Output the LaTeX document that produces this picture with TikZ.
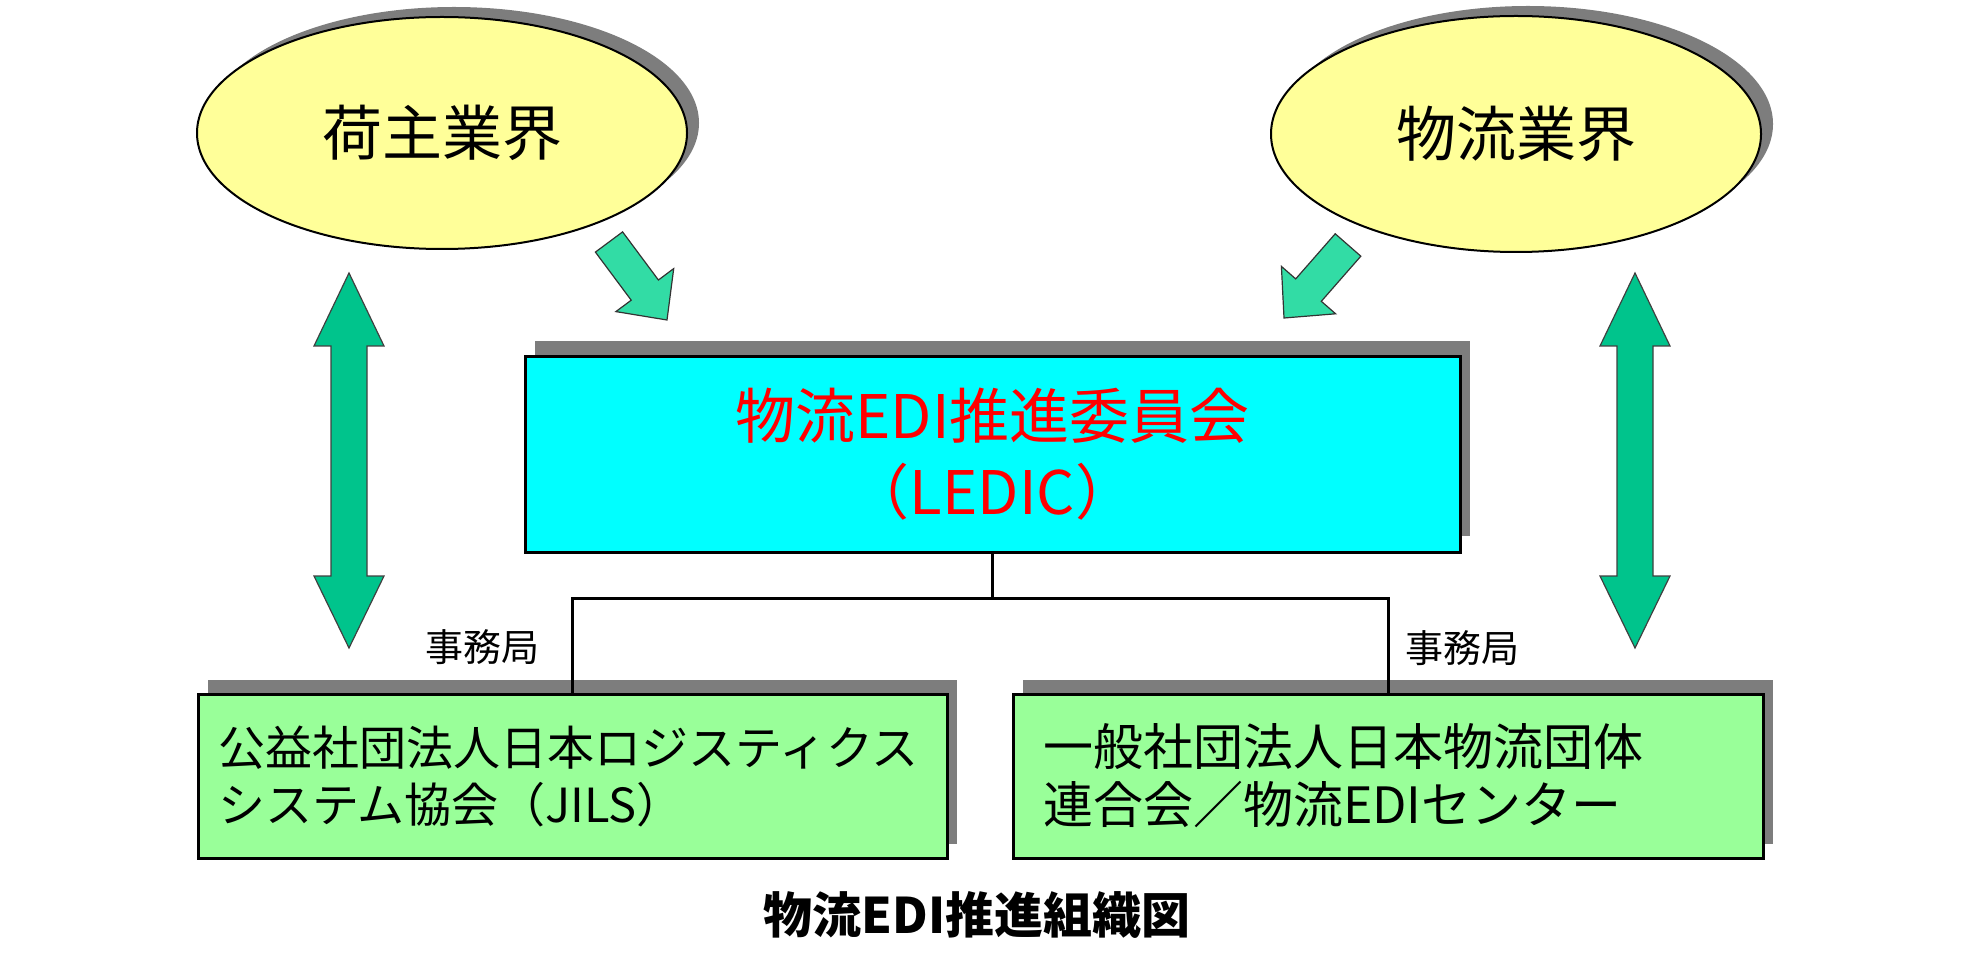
\documentclass[tikz,border=0pt]{standalone}
\usepackage{fontspec}
\setmainfont{Noto Sans CJK JP}
\usetikzlibrary{shapes.geometric,shadows}
\definecolor{ellyellow}{HTML}{FFFF99}
\definecolor{boxcyan}{HTML}{00FFFF}
\definecolor{boxgreen}{HTML}{99FF99}
\definecolor{arrgreen}{RGB}{0,196,140}
\definecolor{arrlight}{RGB}{50,220,165}
\definecolor{shadowgray}{RGB}{125,125,125}
\definecolor{ledicred}{HTML}{FF0000}
\begin{document}
\begin{tikzpicture}[x=0.5pt,y=-0.5pt,
  ell/.style={ellipse, draw=black, line width=1pt, fill=ellyellow,
    minimum width=245pt, minimum height=116pt, inner sep=0pt,
    drop shadow={shadow xshift=6pt,shadow yshift=5pt,fill=shadowgray,opacity=1},
    font=\fontsize{30}{36}\selectfont},
  mainbox/.style={draw=black, line width=1.5pt, fill=boxcyan,
    minimum width=467.5pt, minimum height=97.5pt, inner sep=0pt, align=center,
    text=ledicred, font=\fontsize{30}{38}\selectfont,
    drop shadow={shadow xshift=5pt,shadow yshift=8pt,fill=shadowgray,opacity=1}},
  orgbox/.style={draw=black, line width=1.5pt, fill=boxgreen,
    minimum height=82pt, inner ysep=0pt, align=left,
    drop shadow={shadow xshift=5pt,shadow yshift=7pt,fill=shadowgray,opacity=1}},
  lbl/.style={inner sep=0pt, font=\fontsize{19}{22}\selectfont},
  conn/.style={draw=black, line width=1.5pt},
  dblarrow/.style={fill=arrgreen, draw=black!75, line width=0.6pt, line join=miter},
  smallarrow/.style={fill=arrlight, draw=black!80, line width=0.6pt, line join=miter},
  caption/.style={inner sep=0pt, font=\fontsize{24.5}{28}\selectfont\bfseries}
]
\useasboundingbox (0,0) rectangle (1969,962);

% ellipses
\node[ell] (shipper) at (442,133) {荷主業界};
\node[ell, minimum height=118pt] (logind) at (1516,134) {物流業界};

% central committee
\node[mainbox] (ledic) at (992.5,454.5) {物流EDI推進委員会\\（LEDIC）};

% lower boxes
\node[orgbox, minimum width=374.5pt, text width=354.5pt, inner xsep=10pt,
  font=\fontsize{23.5}{28.5}\selectfont] (jils) at (572.5,776)
  {公益社団法人日本ロジスティクス\\システム協会（JILS）};
\node[orgbox, minimum width=375pt, text width=345pt, inner xsep=15pt,
  font=\fontsize{25}{29}\selectfont] (jfpc) at (1388,776)
  {一般社団法人日本物流団体\\連合会／物流EDIセンター};

% secretariat labels
\node[lbl] (secl) at (482,647) {事務局};
\node[lbl] (secr) at (1462,648) {事務局};

% connectors
\coordinate (bus) at (0,598);
\draw[conn] (ledic.south) -- (ledic.south |- bus);
\draw[conn] (jils.north) -- (jils.north |- bus) -- (jfpc.north |- bus) -- (jfpc.north);

% double arrows
\coordinate (dla) at (349,273);
\coordinate (dlb) at (349,648);
\draw[dblarrow] (dla) -- (384,346) -- (367,346) -- (367,576) -- (384,576) -- (dlb)
  -- (314,576) -- (331,576) -- (331,346) -- (314,346) -- cycle;
\coordinate (dra) at (1635,273);
\coordinate (drb) at (1635,648);
\draw[dblarrow] (dra) -- (1670,346) -- (1653,346) -- (1653,576) -- (1670,576) -- (drb)
  -- (1600,576) -- (1617,576) -- (1617,346) -- (1600,346) -- cycle;

% small arrows
\coordinate (sla) at (667,320);
\draw[smallarrow] (622.6,231.9) -- (658.4,280.0) -- (673.7,268.6) -- (sla)
  -- (615.9,311.6) -- (631.2,300.2) -- (595.4,252.1) -- cycle;
\coordinate (sra) at (1284,318);
\draw[smallarrow] (1360.8,256.2) -- (1321.3,301.3) -- (1335.6,313.8) -- (sra)
  -- (1281.4,266.4) -- (1295.7,278.9) -- (1335.2,233.8) -- cycle;

% caption
\node[caption] (cap) at (977,915) {物流EDI推進組織図};
\end{tikzpicture}
\end{document}
